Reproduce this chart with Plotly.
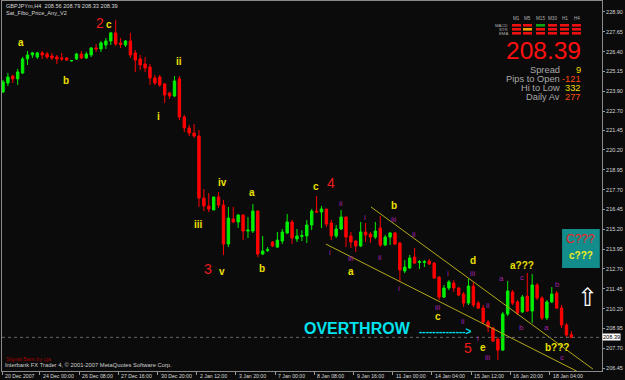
import plotly.graph_objects as go

# ---------------- data (GBPJPYm, H4) ----------------
opens = [223.86,224.42,224.86,224.68,225.05,225.94,226.19,226.06,226.32,226.25,
         226.13,226.06,226.00,226.00,225.81,225.94,226.25,226.00,226.19,226.63,
         226.57,226.82,227.07,227.58,226.95,226.82,227.07,226.32,225.94,225.62,
         225.43,224.74,224.80,224.36,223.79,223.60,224.68,222.28,221.59,221.27,
         221.08,217.17,216.67,216.42,217.24,216.73,214.27,215.85,215.66,216.10,
         215.09,215.09,216.35,213.64,213.86,214.40,214.08,214.46,214.97,215.66,
         214.59,214.75,214.78,215.47,216.35,216.29,216.48,215.60,214.78,215.22,
         215.97,214.78,214.46,214.15,215.03,214.90,214.71,215.28,214.21,214.71,
         214.97,214.34,212.57,212.76,213.45,213.11,213.11,213.20,213.07,212.19,
         210.93,211.50,211.81,211.50,211.12,210.55,211.62,210.55,210.24,209.36,
         208.98,208.28,207.59,209.86,211.25,210.62,209.99,210.99,210.05,211.69,
         210.87,209.61,210.62,211.18,210.24,209.17,208.56]
highs = [224.61,225.05,224.93,225.31,226.06,226.44,226.38,226.38,226.44,226.38,
         226.32,226.19,226.32,226.06,225.87,226.32,226.44,226.38,226.69,226.88,
         227.07,227.26,227.64,228.40,227.26,227.13,227.58,226.50,226.19,226.06,
         225.62,224.93,224.93,224.42,223.86,224.86,224.86,222.41,221.78,221.84,
         221.46,217.74,217.49,217.24,217.55,217.05,216.61,216.61,216.16,216.16,
         215.97,216.79,216.42,214.78,214.08,214.46,215.03,215.22,216.16,215.79,
         215.22,215.15,215.79,216.48,217.30,216.67,216.48,215.79,215.47,216.42,
         216.04,215.03,214.52,215.66,215.60,215.03,215.66,216.04,214.84,215.03,
         215.03,214.40,213.26,213.58,214.02,213.26,213.26,213.33,213.14,212.25,
         211.69,212.00,212.00,211.56,211.25,212.07,211.88,210.68,210.43,209.48,
         209.04,208.41,209.99,211.94,211.37,210.74,211.06,212.44,212.38,211.81,
         210.99,210.74,211.56,211.31,210.43,209.29,208.79]
lows = [223.79,224.23,224.42,224.30,224.99,225.56,226.00,225.94,225.94,225.94,
        225.87,225.62,225.81,225.81,225.78,225.87,225.94,225.94,226.06,226.38,
        226.38,226.57,226.82,226.76,226.63,226.69,226.00,225.12,225.24,225.12,
        224.30,224.30,224.17,223.16,223.42,223.54,222.09,221.33,221.08,220.96,
        216.61,216.35,216.29,216.42,216.54,213.58,214.08,215.60,215.28,214.52,
        214.65,214.97,213.45,213.58,213.77,214.08,214.02,214.27,214.90,214.27,
        214.40,214.46,214.34,215.15,216.23,215.28,215.34,214.52,214.65,215.15,
        214.08,214.02,213.77,214.08,214.40,214.34,214.59,214.08,214.15,214.21,
        214.21,211.88,212.44,212.70,213.01,212.70,212.82,212.95,212.07,210.74,
        210.87,211.37,211.25,210.99,210.30,210.43,210.30,210.18,209.23,208.72,
        208.09,206.96,207.53,209.73,210.43,209.80,209.92,209.99,209.29,210.74,
        209.48,209.48,210.55,210.18,208.98,208.41,208.33]
closes = [224.49,224.80,224.68,225.12,225.94,226.19,226.32,226.32,226.19,226.06,
          226.00,225.94,225.94,225.87,225.84,226.25,226.00,226.25,226.63,226.57,
          226.95,227.07,227.58,226.88,226.85,227.07,226.19,225.87,225.56,225.37,
          224.74,224.42,224.30,223.67,223.60,224.55,222.28,221.59,221.27,221.08,
          217.17,216.67,216.48,217.24,216.73,214.27,215.91,215.66,216.10,215.09,
          215.15,216.35,213.64,213.83,213.93,214.15,214.52,215.03,215.66,214.65,
          214.78,214.81,215.47,216.35,216.29,216.48,215.53,214.78,215.22,215.97,
          214.71,214.40,214.15,215.03,214.84,214.71,215.09,214.21,214.71,214.97,
          214.27,212.63,212.82,213.39,213.07,213.17,213.17,213.01,212.13,210.93,
          211.50,211.88,211.50,211.06,210.55,211.62,210.43,210.24,209.36,209.04,
          208.16,207.59,209.86,211.31,210.55,209.92,210.93,210.05,211.69,210.87,
          209.61,210.62,211.12,210.24,209.17,208.54,208.39]
bars = list(range(len(opens)))

time_labels = ["20 Dec 2007", "24 Dec 00:00", "26 Dec 08:00", "27 Dec 16:00",
               "30 Dec 20:00", "2 Jan 12:00", "3 Jan 20:00", "7 Jan 00:00",
               "8 Jan 08:00", "9 Jan 16:00", "11 Jan 00:00", "14 Jan 04:00",
               "15 Jan 12:00", "16 Jan 20:00", "18 Jan 04:00"]
time_label_bars = [0, 8, 16, 24, 32, 40, 48, 56, 64, 72, 80, 88, 96, 104, 112]

price_ticks = [228.90, 227.65, 226.40, 225.15, 223.90, 222.65, 221.45, 220.20,
               218.95, 217.70, 216.45, 215.20, 213.95, 212.70, 211.45, 210.20,
               208.95, 207.70, 206.45]
price_tick_text = ["228.90", "227.65", "226.40", "225.15", "223.90", "222.70",
                   "221.45", "220.20", "218.95", "217.70", "216.45", "215.20",
                   "213.95", "212.70", "211.45", "210.20", "208.95", "207.70",
                   "206.45"]

last_price = 208.39

# Elliott wave labels (bar index, price, text)
yellow_labels = [(3.7, 226.95, "a"), (12.9, 224.61, "b"), (21.6, 228.14, "c"),
                 (35.9, 225.75, "ii"), (31.8, 222.28, "i"), (44.9, 218.12, "iv"),
                 (50.8, 217.55, "a"), (39.8, 215.53, "iii"), (44.7, 212.57, "v"),
                 (52.9, 212.70, "b"), (63.9, 217.87, "c"), (71.0, 212.57, "a"),
                 (79.8, 216.67, "b"), (88.8, 209.73, "c"), (95.9, 213.26, "d"),
                 (98.0, 207.72, "e"), (105.9, 212.95, "a???"), (113.1, 207.72, "b???")]
red_labels = [(19.8, 228.21, "2"), (41.8, 212.70, "3"), (66.9, 218.12, "4"),
              (94.9, 207.72, "5")]
purple_labels = [(69.0, 216.80, "ii"), (66.7, 213.77, "i"), (71.0, 213.33, "iii"),
                 (73.9, 215.97, "i"), (76.9, 213.45, "ii"), (79.8, 215.85, "iii"),
                 (83.9, 214.90, "ii"), (80.8, 211.44, "i"), (88.8, 210.30, "iii"),
                 (90.8, 212.44, "i"), (95.9, 212.44, "iii"), (99.0, 210.43, "ii"),
                 (93.9, 209.42, "ii"), (96.9, 208.35, "i"), (99.0, 207.09, "iii"),
                 (101.8, 212.07, "a"), (105.9, 212.19, "c"), (105.9, 209.04, "b"),
                 (111.0, 209.04, "a"), (113.1, 211.75, "b"), (114.1, 207.09, "c")]

# trend channel lines (bar, price) -> (bar, price)
channel_lines = [((75.1, 216.61), (120.4, 206.39)),
                 ((65.9, 214.27), (117.1, 206.26))]

# multi-timeframe signal panel
tf_names = ["M1", "M5", "M15", "M30", "H1", "H4"]
sig_rows = ["MACD", "STR", "EMA"]
sig_states = [["dn", "dn", "up", "dn", "dn", "dn"],
              ["dn", "flat", "dn", "dn", "dn", "dn"],
              ["dn", "dn", "dn", "dn", "dn", "dn"]]
info_names = ["Spread", "Pips to Open", "Hi to Low", "Daily Av"]
info_values = ["9", "-121", "332", "277"]

# ---------------- figure ----------------
W, H = 625, 380
ML, MR, MT, MB = 2, 23, 1, 9
PW, PH = W - ML - MR, H - MT - MB


def px(x):
    return (x - ML) / PW


def py(y):
    return (H - MB - y) / PH


BG = "#0b0b0b"
FONT = "Liberation Sans, Arial, sans-serif"
YEL = "#ece000"
RED = "#ee1a1a"
PUR = "#a21fa8"

fig = go.Figure()
fig.add_trace(go.Candlestick(
    x=bars, open=opens, high=highs, low=lows, close=closes,
    increasing=dict(line=dict(color="#00ee00", width=1), fillcolor="#00ee00"),
    decreasing=dict(line=dict(color="#ff0000", width=1), fillcolor="#ff0000"),
    whiskerwidth=0, showlegend=False, hoverinfo="skip"))

shapes = []
for (x0, y0), (x1, y1) in channel_lines:
    shapes.append(dict(type="line", xref="x", yref="y", x0=x0, y0=y0, x1=x1, y1=y1,
                       line=dict(color="#b4aa18", width=1)))
shapes.append(dict(type="line", xref="paper", yref="y", x0=0, x1=1,
                   y0=last_price, y1=last_price,
                   line=dict(color="#6a6a6a", width=1, dash="dot")))
# teal box
shapes.append(dict(type="rect", xref="x", yref="y", x0=114.1, x1=121.8,
                   y0=212.76, y1=215.22, fillcolor="#138c8c", line=dict(width=0),
                   layer="above"))
# signal panel cells
col_x = [512, 523, 536, 548, 560, 572]
row_y = [24, 28, 32]
state_col = {"dn": "#ee1010", "up": "#10a010", "flat": "#f0a000"}
for r, row in enumerate(sig_states):
    for c, st in enumerate(row):
        shapes.append(dict(type="rect", xref="paper", yref="paper",
                           x0=px(col_x[c]), x1=px(col_x[c] + 9),
                           y0=py(row_y[r] + 2.6), y1=py(row_y[r]),
                           fillcolor=state_col[st], line=dict(width=0)))

ann = []


def add(x, y, text, color, size, xref="x", yref="y", xanchor="center",
        yanchor="middle", family=FONT, bg=None):
    d = dict(x=x, y=y, xref=xref, yref=yref, text=text, showarrow=False,
             xanchor=xanchor, yanchor=yanchor,
             font=dict(color=color, size=size, family=family))
    if bg:
        d["bgcolor"] = bg
        d["borderpad"] = 0
    ann.append(d)


for x, y, t in yellow_labels:
    add(x, y, "<b>" + t + "</b>", YEL, 10)
for x, y, t in red_labels:
    add(x, y, t, RED, 14)
for x, y, t in purple_labels:
    add(x, y, t, PUR, 8)

add(72.45, 208.97, "<b>OVERTHROW</b>", "#00e2ee", 16)
add(90.4, 208.75, "<b>--------------&gt;</b>", "#00e2ee", 10)
add(117.96, 214.59, "C???", "#ee2020", 12)
add(117.96, 213.52, "<b>c???</b>", "#f0f020", 10)
add(119.2, 210.93, "\u21e7", "#ffffff", 25, family="DejaVu Sans")

# header texts
add(px(4), py(6), "GBPJPYm,H4  208.56 208.79 208.33 208.39", "#d8d8d8", 5.6,
    xref="paper", yref="paper", xanchor="left")
add(px(4), py(13), "Sat_Fibo_Price_Any_V2", "#d8d8d8", 5.6,
    xref="paper", yref="paper", xanchor="left")
add(px(4), py(359), "Signal Bars by cja", "#a00000", 5.6,
    xref="paper", yref="paper", xanchor="left")
add(px(3), py(364.5), "Interbank FX Trader 4, \u00a9 2001-2007 MetaQuotes Software Corp.",
    "#d0d0d0", 5.8, xref="paper", yref="paper", xanchor="left")

# signal panel labels
tf_cx = [516.5, 527.5, 540.5, 552.5, 564.5, 576.5]
for cx, n in zip(tf_cx, tf_names):
    add(px(cx), py(19), n, "#b0b0b0", 4.6, xref="paper", yref="paper")
for ry, n in zip([25.3, 29.3, 33.3], sig_rows):
    add(px(510), py(ry), n, "#b0b0b0", 4.3, xref="paper", yref="paper",
        xanchor="right")
add(px(583), py(51), str(last_price), "#ff1010", 24.5, xref="paper",
    yref="paper", xanchor="right")
info_y = [70, 79, 87.7, 96.5]
info_col = ["#f0d800", "#ff4a10", "#f0d800", "#ff4a10"]
for yy, n, v, c in zip(info_y, info_names, info_values, info_col):
    add(px(561.5), py(yy), n, "#a8a8a8", 9.3, xref="paper", yref="paper",
        xanchor="right")
    add(px(583), py(yy), v, c, 9.3, xref="paper", yref="paper", xanchor="right")

# last price tag on the axis
add(1.0, last_price, str(last_price), "#000000", 5.6, xref="paper", yref="y",
    xanchor="left", bg="#ffffff")

# time axis labels, left-aligned at their tick
tickvals = [max(b - 0.45, -0.12) for b in time_label_bars]
for tv, lab in zip(tickvals, time_labels):
    ann.append(dict(x=tv, y=py(375.5), xref="x", yref="paper", text=lab,
                    showarrow=False, xanchor="left", yanchor="middle", xshift=1,
                    font=dict(color="#d8d8d8", size=5.2, family=FONT)))

fig.update_layout(
    width=W, height=H, margin=dict(l=ML, r=MR, t=MT, b=MB),
    paper_bgcolor=BG, plot_bgcolor=BG, shapes=shapes, annotations=ann,
    showlegend=False, hovermode=False,
    xaxis=dict(range=[-0.2, -0.2 + PW / 4.9], tickvals=tickvals,
               showticklabels=False, ticks="outside", ticklen=3, tickcolor="#9a9a9a",
               showgrid=False, zeroline=False, showline=True, mirror=True,
               linecolor="#8a8a8a", linewidth=1, rangeslider=dict(visible=False),
               automargin=False, fixedrange=True),
    yaxis=dict(range=[206.27, 229.59], side="right", tickvals=price_ticks,
               ticktext=price_tick_text, ticks="outside", ticklen=2,
               tickcolor="#9a9a9a", tickfont=dict(size=5.5, color="#d8d8d8", family=FONT),
               showgrid=False, zeroline=False, showline=True, mirror=True,
               linecolor="#8a8a8a", linewidth=1, automargin=False, fixedrange=True),
)

fig.write_html("out.html")
